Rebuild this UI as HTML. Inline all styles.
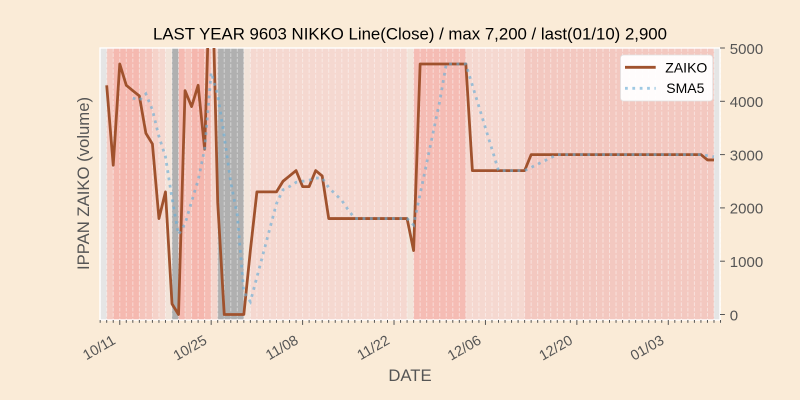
<!DOCTYPE html>
<html>
<head>
<meta charset="utf-8">
<style>
html,body{margin:0;padding:0;background:#faebd7;}
svg{display:block;}
text{font-family:"Liberation Sans",Arial,sans-serif;}
</style>
</head>
<body>
<svg width="800" height="400" viewBox="0 0 800 400" xmlns="http://www.w3.org/2000/svg">
<defs>
<clipPath id="pc"><rect x="100" y="48" width="620" height="272"/></clipPath>
</defs>
<rect x="0" y="0" width="800" height="400" fill="#faebd7"/>
<!-- plot background -->
<rect x="100" y="48" width="620" height="272" fill="#e5e5e5"/>
<!-- cells -->
<g>
<rect x="106.70" y="48" width="6.53" height="272" fill="#f5c9c0"/>
<rect x="113.23" y="48" width="26.12" height="272" fill="#f5b9b0"/>
<rect x="139.35" y="48" width="6.53" height="272" fill="#f5c4bb"/>
<rect x="145.88" y="48" width="6.53" height="272" fill="#f5c6bd"/>
<rect x="152.41" y="48" width="6.53" height="272" fill="#f5d2c9"/>
<rect x="158.94" y="48" width="6.53" height="272" fill="#f5d8cf"/>
<rect x="165.47" y="48" width="6.53" height="272" fill="#f2e4da"/>
<rect x="172.00" y="48" width="6.53" height="272" fill="#b0b0b0"/>
<rect x="178.53" y="48" width="6.53" height="272" fill="#f5bab1"/>
<rect x="185.06" y="48" width="6.53" height="272" fill="#f5c5bc"/>
<rect x="191.59" y="48" width="13.06" height="272" fill="#f5b6ad"/>
<rect x="204.65" y="48" width="6.53" height="272" fill="#f5bcb3"/>
<rect x="211.18" y="48" width="6.53" height="272" fill="#f5d5cc"/>
<rect x="217.71" y="48" width="26.12" height="272" fill="#b0b0b0"/>
<rect x="243.83" y="48" width="6.53" height="272" fill="#f2e4da"/>
<rect x="250.36" y="48" width="156.72" height="272" fill="#f5d8d0"/>
<rect x="407.08" y="48" width="6.53" height="272" fill="#f2e4da"/>
<rect x="413.61" y="48" width="52.24" height="272" fill="#f5bcb4"/>
<rect x="465.85" y="48" width="58.77" height="272" fill="#f5d8d0"/>
<rect x="524.62" y="48" width="189.37" height="272" fill="#f3c8c0"/>
</g>
<!-- vertical dashed grid -->
<g stroke="#ffffff" stroke-opacity="0.45" stroke-width="1" stroke-dasharray="3.7,1.6" id="grid">
</g>
<script>
(function(){
  var g=document.getElementById('grid');
  var ns='http://www.w3.org/2000/svg';
  for(var d=-1;d<=94;d++){
    var x=106.7+6.53*d;
    if(x<100||x>720.6)continue;
    var l=document.createElementNS(ns,'line');
    l.setAttribute('x1',x.toFixed(2));l.setAttribute('x2',x.toFixed(2));
    l.setAttribute('y1','48');l.setAttribute('y2','320');
    g.appendChild(l);
  }
})();
</script>
<!-- frame -->
<rect x="100" y="48" width="620" height="272" fill="none" stroke="#ffffff" stroke-width="1.4"/>
<!-- data lines -->
<g clip-path="url(#pc)">
<polyline fill="none" stroke="#a0522d" stroke-width="2.78" stroke-linejoin="round" points="106.70,85.31 113.23,165.26 119.76,63.99 126.29,85.31 132.82,90.64 139.35,95.97 145.88,133.28 152.41,143.94 158.94,218.56 165.47,191.91 172.00,303.84 178.53,314.5 185.06,90.64 191.59,106.63 198.12,85.31 204.65,149.27 211.18,-69.26 217.71,202.57 224.24,314.5 230.77,314.5 237.30,314.5 243.83,314.5 250.36,250.54 256.89,191.91 263.42,191.91 269.95,191.91 276.48,191.91 283.01,181.25 289.54,175.92 296.07,170.59 302.60,186.58 309.13,186.58 315.66,170.59 322.19,175.92 328.72,218.56 407.08,218.56 413.61,250.54 420.14,63.99 465.85,63.99 472.38,170.59 524.62,170.59 531.15,154.6 700.93,154.6 707.46,159.93 713.99,159.93"/>
<polyline fill="none" stroke="#6aaed6" stroke-opacity="0.65" stroke-width="2.78" stroke-dasharray="2.78,4.58" points="132.82,98.1 139.35,100.23 145.88,93.84 152.41,109.83 158.94,136.48 165.47,156.73 172.00,198.31 178.53,234.55 185.06,223.89 191.59,201.5 198.12,180.18 204.65,149.27 211.18,72.52 217.71,94.9 224.24,136.48 230.77,182.32 237.30,215.36 243.83,292.11 250.36,301.71 256.89,277.19 263.42,252.67 269.95,228.15 276.48,203.64 283.01,189.78 289.54,186.58 296.07,182.32 302.60,181.25 309.13,180.18 315.66,178.05 322.19,178.05 328.72,187.65 335.25,194.04 341.78,200.44 348.31,210.03 354.84,218.56 407.08,218.56 413.61,224.96 420.14,194.04 426.67,163.13 433.20,132.21 439.73,101.3 446.26,63.99 465.85,63.99 472.38,85.31 478.91,106.63 485.44,127.95 491.97,149.27 498.50,170.59 524.62,170.59 531.15,167.39 537.68,164.19 544.21,160.99 550.74,157.8 557.27,154.6 700.93,154.6 707.46,155.67 713.99,156.73"/>
</g>
<!-- x ticks -->
<g stroke="#555555" stroke-width="1" id="xt"></g>
<script>
(function(){
  var g=document.getElementById('xt');
  var ns='http://www.w3.org/2000/svg';
  for(var d=-1;d<=94;d++){
    var x=106.7+6.53*d;
    if(x<99.5||x>720.6)continue;
    var major=((d-2)%14===0);
    var l=document.createElementNS(ns,'line');
    l.setAttribute('x1',x.toFixed(2));l.setAttribute('x2',x.toFixed(2));
    l.setAttribute('y1','320');l.setAttribute('y2',major?'324.9':'322.8');
    g.appendChild(l);
  }
})();
</script>
<!-- x tick labels -->
<g fill="#555555" font-size="14.3" text-anchor="end">
<text transform="translate(116.5,343) rotate(-30)">10/11</text>
<text transform="translate(207.9,343) rotate(-30)">10/25</text>
<text transform="translate(299.3,343) rotate(-30)">11/08</text>
<text transform="translate(390.7,343) rotate(-30)">11/22</text>
<text transform="translate(482.1,343) rotate(-30)">12/06</text>
<text transform="translate(573.6,343) rotate(-30)">12/20</text>
<text transform="translate(665.0,343) rotate(-30)">01/03</text>
</g>
<!-- y ticks right -->
<g stroke="#555555" stroke-width="1">
<line x1="720" y1="314.5" x2="724.9" y2="314.5"/>
<line x1="720" y1="261.2" x2="724.9" y2="261.2"/>
<line x1="720" y1="207.9" x2="724.9" y2="207.9"/>
<line x1="720" y1="154.6" x2="724.9" y2="154.6"/>
<line x1="720" y1="101.3" x2="724.9" y2="101.3"/>
<line x1="720" y1="48" x2="724.9" y2="48"/>
</g>
<g fill="#555555" font-size="15" text-anchor="start">
<text x="729.8" y="320.3">0</text>
<text x="729.8" y="267.0">1000</text>
<text x="729.8" y="213.7">2000</text>
<text x="729.8" y="160.4">3000</text>
<text x="729.8" y="107.1">4000</text>
<text x="729.8" y="53.8">5000</text>
</g>
<!-- title -->
<text x="410" y="39.5" font-size="16.7" text-anchor="middle" fill="#000000" textLength="514" lengthAdjust="spacingAndGlyphs">LAST YEAR 9603 NIKKO Line(Close) / max 7,200 / last(01/10) 2,900</text>
<!-- axis labels -->
<text x="410" y="381" font-size="16.7" text-anchor="middle" fill="#555555">DATE</text>
<text transform="translate(89,183.5) rotate(-90)" font-size="16.7" text-anchor="middle" fill="#555555">IPPAN ZAIKO (volume)</text>
<!-- legend -->
<rect x="620.5" y="55" width="92.2" height="46" rx="3" ry="3" fill="#ffffff" fill-opacity="0.95" stroke="#e0e0e0" stroke-width="0.8"/>
<line x1="625" y1="67.3" x2="655.7" y2="67.3" stroke="#a0522d" stroke-width="2.78"/>
<line x1="625" y1="88.3" x2="655.7" y2="88.3" stroke="#6aaed6" stroke-opacity="0.65" stroke-width="2.78" stroke-dasharray="2.78,4.58"/>
<g fill="#000000" font-size="14">
<text x="665.3" y="72.5">ZAIKO</text>
<text x="666.3" y="92.8">SMA5</text>
</g>
</svg>
</body>
</html>
